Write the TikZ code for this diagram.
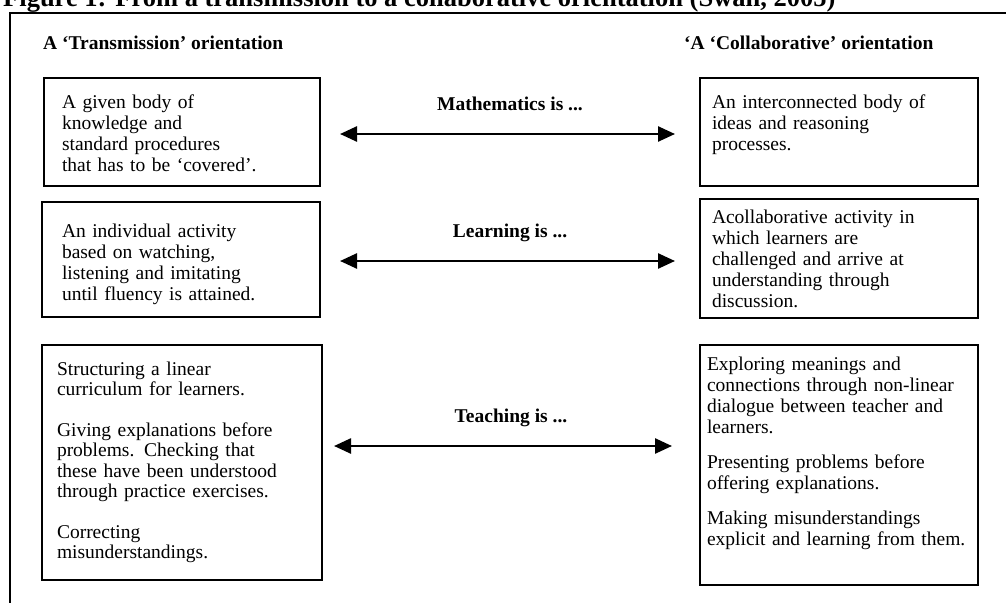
\documentclass[tikz,border=0pt]{standalone}
\usepackage{fontspec}
\setmainfont{Liberation Serif}
\usetikzlibrary{positioning, arrows.meta}

\begin{document}
\begin{tikzpicture}[x=1pt, y=-1pt,
        >={Triangle[length=17pt, width=15pt]},
        box/.style={draw, line width=2pt, anchor=north west, align=left, inner ysep=0pt, outer sep=0pt,
            font=\fontsize{19.5}{21}\selectfont},
        heading/.style={anchor=base west, inner sep=0pt, font=\fontsize{19.5}{21}\selectfont\bfseries},
        link/.style={<->, line width=2.5pt},
        claim/.style={midway, anchor=base, yshift=24pt, inner sep=0pt, font=\fontsize{19.5}{21}\selectfont\bfseries}]
        \useasboundingbox (0,0) rectangle (1006,602);
        \clip (0,0) rectangle (1006,602);

        % caption and frame
        \node[anchor=base west, inner sep=0pt, font=\fontsize{26.5}{28}\selectfont\bfseries] (title) at (3,7)
            {Figure 1: From a transmission to a collaborative orientation (Swan, 2005)};
        \draw[line width=2pt] (10,700) -- (10,13) -- (1100,13);

        \node[heading] (head-t) at (43,50) {A ‘Transmission’ orientation};
        \node[heading] (head-c) at (684,50) {‘A ‘Collaborative’ orientation};

        % transmission side
        \node[box, inner xsep=18pt, text width=240pt, text height=30pt, text depth=78pt] (math-t) at (44,78)
            {A given body of\\ knowledge and\\ standard procedures\\ that has to be ‘covered’.};
        \node[box, inner xsep=20pt, text width=238pt, text height=35pt, text depth=80pt] (learn-t) at (42,202)
            {An individual activity\\ based on watching,\\ listening and imitating\\ until fluency is attained.};
        \node[box, inner xsep=15pt, text width=250pt, text height=30pt, text depth=205pt,
            font=\fontsize{19.5}{20.5}\selectfont] (teach-t) at (42,345)
            {Structuring a linear\\ curriculum for learners.\\[20pt]
             Giving explanations before\\ problems. Checking that\\ these have been understood\\ through practice exercises.\\[20pt]
             Correcting\\ misunderstandings.};

        % collaborative side
        \node[box, inner xsep=12pt, text width=254pt, text height=30pt, text depth=78pt] (math-c) at (700,78)
            {An interconnected body of\\ ideas and reasoning\\ processes.};
        \node[box, inner xsep=12pt, text width=254pt, text height=24pt, text depth=95pt] (learn-c) at (700,199)
            {Acollaborative activity in\\ which learners are\\ challenged and arrive at\\ understanding through\\ discussion.};
        \node[box, inner xsep=7pt, text width=264pt, text height=25pt, text depth=215pt] (teach-c) at (700,345)
            {Exploring meanings and\\ connections through non-linear\\ dialogue between teacher and\\ learners.\\[14pt]
             Presenting problems before\\ offering explanations.\\[14pt]
             Making misunderstandings\\ explicit and learning from them.};

        % two-way arrows
        \draw[link, shorten <=20pt, shorten >=25pt] ([yshift=-2pt]math-t.east) -- ([yshift=-2pt]math-t.east -| math-c.west)
            node[claim] {Mathematics is ...};
        \draw[link, shorten <=20pt, shorten >=25pt] ([yshift=-1.5pt]learn-t.east) -- ([yshift=-1.5pt]learn-t.east -| learn-c.west)
            node[claim] {Learning is ...};
        \draw[link, shorten <=12pt, shorten >=28pt] ([yshift=16.5pt]teach-t.east) -- ([yshift=16.5pt]teach-t.east -| teach-c.west)
            node[claim] {Teaching is ...};
    \end{tikzpicture}
\end{document}
